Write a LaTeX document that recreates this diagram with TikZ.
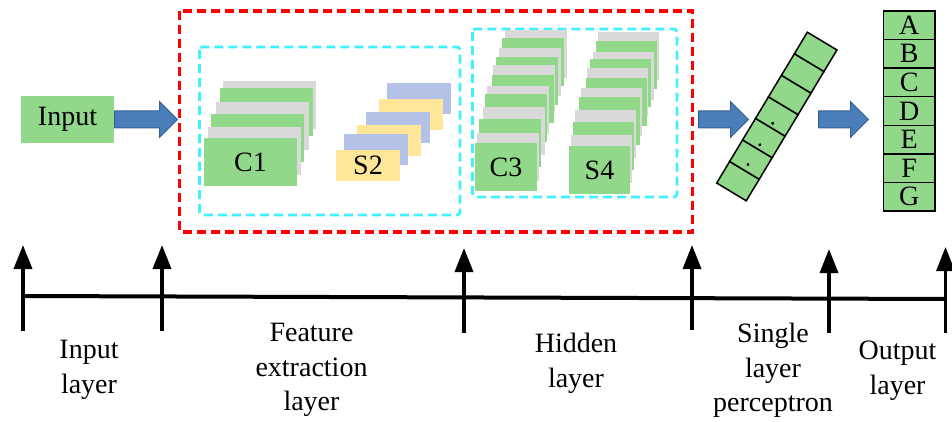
\documentclass[tikz,border=0pt]{standalone}
\usepackage{fontspec}
\setmainfont{Liberation Serif}
\newfontfamily\diagfont{Liberation Serif}
\usetikzlibrary{positioning,arrows.meta,shapes.arrows}
\definecolor{mapgreen}{RGB}{146,216,138}
\definecolor{mapgray}{RGB}{217,217,217}
\definecolor{mapblue}{RGB}{180,194,232}
\definecolor{mapyellow}{RGB}{255,230,153}
\definecolor{arrowblue}{RGB}{74,126,187}
\definecolor{arrowedge}{RGB}{56,96,146}
\definecolor{boxcyan}{RGB}{64,240,255}

\begin{document}
\begin{tikzpicture}[
x=1pt,y=-1pt,
font=\diagfont\fontsize{28}{34.5}\selectfont,
fmap/.style={
	anchor=north west,
	inner sep=0pt,
	outer sep=0pt
},
blockarrow/.style={
	single arrow,
	draw=arrowedge,
	fill=arrowblue,
	line width=1pt,
	inner xsep=0pt,
	inner ysep=8pt,
	text height=0pt,
	text depth=0pt,
	single arrow head extend=9.5pt,
	single arrow head indent=0pt,
	anchor=tail
},
cell/.style={
	draw,
	fill=mapgreen,
	line width=1.5pt,
	inner sep=0pt
},
dot/.style={
	fill=black,
	circle,
	inner sep=1.2pt
},
stage/.style={
	-{Triangle[width=18pt,length=24pt]},
	line width=3.5pt
},
redbox/.style={
	draw=red,
	line width=3.5pt,
	dash pattern=on 9pt off 5pt
},
cyanbox/.style={
	draw=boxcyan,
	line width=2.8pt,
	rounded corners=3pt,
	dash pattern=on 9pt off 5pt
}
]
\useasboundingbox (0,0) rectangle (952,422);

\node[fmap,fill=mapgreen,minimum width=93pt,minimum height=47pt] (inp) at (21,96) {Input};
\node[blockarrow,minimum height=63pt] (arr1) at (inp.east) {};

\draw[redbox] (179.5,11) rectangle (692.5,232);
\draw[cyanbox] (199.5,47) rectangle (460,215);
\draw[cyanbox] (472.5,29) rectangle (677,197);

% C1
\foreach \x/\y/\c [count=\i] in {223/81/mapgray,220/88/mapgreen,216/102/mapgray,211/114/mapgreen,208/127/mapgray}
\node[fmap,fill=\c,minimum width=93pt,minimum height=48pt] (c1\i) at (\x,\y) {};
\node[fmap,fill=mapgreen,minimum width=93pt,minimum height=48pt] (c1) at (204,138) {C1};

% S2
\foreach \x/\y/\c [count=\i] in {387/83/mapblue,379/99/mapyellow,366/112/mapblue,357/125/mapyellow,344/134/mapblue}
\node[fmap,fill=\c,minimum width=64pt,minimum height=31pt] (s2\i) at (\x,\y) {};
\node[fmap,fill=mapyellow,minimum width=64pt,minimum height=31pt] (s2) at (336,150) {S2};

% C3
\foreach \x/\y/\c [count=\i] in {505/30/mapgray,502/38/mapgreen,499/48/mapgray,496/57/mapgreen,493/65/mapgray,492/75/mapgreen,487/86/mapgray,485/94/mapgreen,483/107/mapgray,479/119/mapgreen,477/133/mapgray}
\node[fmap,fill=\c,minimum width=62pt,minimum height=48pt] (c3\i) at (\x,\y) {};
\node[fmap,fill=mapgreen,minimum width=62pt,minimum height=48pt] (c3) at (475,143) {C3};

% S4
\foreach \x/\y/\c [count=\i] in {598/32/mapgray,596/41/mapgreen,593/52/mapgray,590/59/mapgreen,587/68/mapgray,586/78/mapgreen,581/88/mapgray,579/97/mapgreen,575/110/mapgray,573/122/mapgreen,571/135/mapgray}
\node[fmap,fill=\c,minimum width=61pt,minimum height=48pt] (s4\i) at (\x,\y) {};
\node[fmap,fill=mapgreen,minimum width=61pt,minimum height=48pt] (s4) at (569,146) {S4};

\node[blockarrow,minimum height=50pt] (arr2) at (698,119.5) {};

\begin{scope}[shift={(776.8,116.5)},rotate=59,transform shape]
\foreach \i in {0,...,6}
\node[cell,minimum width=25.14pt,minimum height=34.5pt] (p\i) at ({-75.42+25.14*\i},0) {};
\foreach \d [count=\i] in {-8,-33,-56}
\node[dot] (pd\i) at (\d,0) {};
\end{scope}

\node[blockarrow,minimum height=50pt] (arr3) at (818,119.5) {};

\foreach \l [count=\i] in {A,B,C,D,E,F,G}
\node[cell,minimum width=51.7pt,minimum height=28.57pt] (o\i) at (909.2,{11+28.57*(\i-0.5)}) {\l};

\coordinate (ax0) at (23,296);
\coordinate (ax1) at (946,299);
\draw[line width=4pt] (ax0) -- (ax1);

\foreach \x/\t/\b [count=\i] in {23/245/331,162/245/331,464/248/333,692/245/330,829/249/333,945.5/247/333}{
\coordinate (b\i) at (\x,\b);
\coordinate (t\i) at (\x,\t);
\draw[stage] (b\i) -- (t\i);
}

\node[align=center] (linp) at (89,370) {Input\\layer};
\node[align=center] (lfea) at (311.5,370) {Feature\\extraction\\layer};
\node[align=center] (lhid) at (576,363.5) {Hidden\\layer};
\node[align=center] (lsin) at (773,370.5) {Single\\layer\\perceptron};
\node[align=center] (lout) at (897.5,370.5) {Output\\layer};
\end{tikzpicture}
\end{document}
